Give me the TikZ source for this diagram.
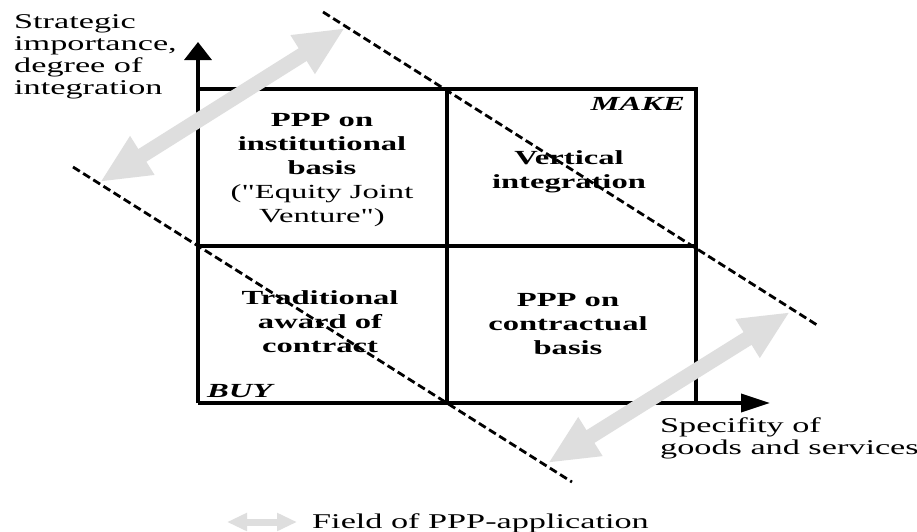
\documentclass[tikz,border=0pt]{standalone}
\usepackage{fontspec}
\setmainfont[FakeStretch=1.63]{Liberation Serif}
% same face without TeX ligatures, so that " stays a straight quote
\newfontfamily\straightquotes[FakeStretch=1.63]{Liberation Serif}
\newcommand{\sq}{{\straightquotes"}}
\usetikzlibrary{arrows.meta}
\definecolor{fieldgray}{RGB}{222,222,222}
\begin{document}
\begin{tikzpicture}[x=1pt,y=-1pt,
  axistext/.style={font=\fontsize{21}{22}\selectfont, inner sep=0pt, align=left},
  cell/.style={font=\fontsize{20}{24}\selectfont\bfseries, inner sep=0pt, align=center},
  corner/.style={font=\fontsize{20}{24}\selectfont\bfseries\itshape, inner sep=0pt},
  frame/.style={line width=3.6pt},
  yaxis/.style={line width=3.6pt, -{Triangle[length=18pt,width=27pt]}},
  xaxis/.style={line width=3.6pt, -{Triangle[length=29pt,width=18pt]}},
  border/.style={line width=2.8pt, dash pattern=on 8pt off 4pt},
  field/.style={draw=fieldgray, line width=15pt,
    {Triangle[length=50pt,width=42pt]}-{Triangle[length=50pt,width=42pt]}},
  keyfield/.style={draw=fieldgray, line width=7pt,
    {Triangle[length=20pt,width=17pt]}-{Triangle[length=20pt,width=17pt]}},
]
\fill[white] (0,0) rectangle (917,531);
\useasboundingbox (0,0) rectangle (917,531);

% corner points of the matrix
\coordinate (O) at (198,403);
\coordinate (TL) at (198,89);
\coordinate (TR) at (696,89);
\coordinate (BR) at (696,403);
\coordinate (TM) at (447,89);
\coordinate (BM) at (447,403);
\coordinate (LM) at (198,246);
\coordinate (RM) at (696,246);
\coordinate (ytip) at (198,42);
\coordinate (xtip) at (770,403);

% frame and axes
\draw[frame] (TL) -- (TR) -- (BR);
\draw[frame] (TM) -- (BM);
\draw[frame] (LM) -- (RM);
\draw[yaxis] (O) -- (ytip);
\draw[xaxis] (O) -- (xtip);

% axis labels
\node[axistext, anchor=north west] (ylab) at (14,14)
  {Strategic\\importance,\\degree of\\integration};
\node[axistext, anchor=north west] (xlab) at (660,418)
  {Specifity of\\goods and services};

% quadrant texts
\node[cell, anchor=north] (inst) at (322,113.5)
  {PPP on\\institutional\\basis\\\mdseries(\sq Equity Joint\\\mdseries Venture\sq)};
\node[cell, anchor=north] (vert) at (569,150.5) {Vertical\\integration};
\node[cell, anchor=north] (trad) at (320,290) {Traditional\\award of\\contract};
\node[cell, anchor=north] (contr) at (568,293) {PPP on\\contractual\\basis};
\node[corner, anchor=base east] (make) at (685,110) {MAKE};
\node[corner, anchor=base west] (buy) at (207,397) {BUY};

% field of PPP application
\coordinate (a1) at (100,182);
\coordinate (a2) at (345,28);
\coordinate (b1) at (548,463);
\coordinate (b2) at (790,312);
\draw[field] (a1) -- (a2);
\draw[field] (b1) -- (b2);

% boundaries of the field
\coordinate (d1) at (323,12);
\coordinate (d2) at (817,325);
\coordinate (e1) at (73,167);
\coordinate (e2) at (572,482);
\draw[border] (d1) -- (d2);
\draw[border] (e1) -- (e2);

% key
\coordinate (k1) at (227,522);
\coordinate (k2) at (297,522);
\draw[keyfield] (k1) -- (k2);
\node[axistext, anchor=base west] (keytext) at (312,528) {Field of PPP-application};
\end{tikzpicture}
\end{document}
